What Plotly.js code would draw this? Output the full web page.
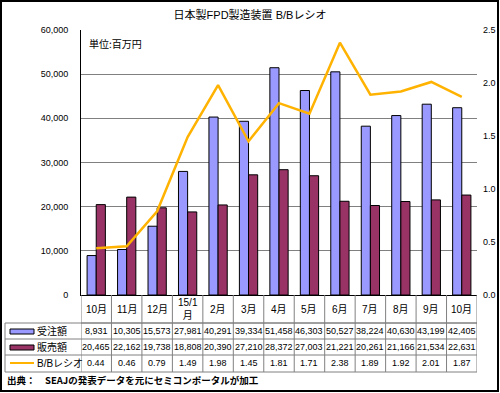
<!DOCTYPE html>
<html><head><meta charset="utf-8">
<script src="https://cdn.plot.ly/plotly-3.0.1.min.js"></script>
<style>body{margin:0;background:#fff}#c{width:500px;height:393px}</style>
</head><body><div id="c"></div>
<script>
var categories = ['10月','11月','12月','15/1<br>月','2月','3月','4月','5月','6月','7月','8月','9月','10月'];
var orders = [8931,10305,15573,27981,40291,39334,51458,46303,50527,38224,40630,43199,42405];
var sales = [20465,22162,19738,18808,20390,27210,28372,27003,21221,20261,21166,21534,22631];
var bbRatio = [0.44,0.46,0.79,1.49,1.98,1.45,1.81,1.71,2.38,1.89,1.92,2.01,1.87];
var seriesNames = ['受注額','販売額','B/Bレシオ'];
var titleText = '日本製FPD製造装置 B/Bレシオ';
var unitText = '単位:百万円';
var sourceText = '出典：　SEAJの発表データを元にセミコンポータルが加工';

var L=81,R=477,T=30,B=295,W=R-L,H=B-T;
function px(x){return (x-L)/W;}
function py(y){return (B-y)/H;}
var idx = categories.map(function(_,i){return i;});
var FONT = 'Liberation Sans, Noto Sans CJK JP, sans-serif';
var CJK = 'Noto Sans CJK JP, sans-serif';
var blue='#9999FF', maroon='#993366', gold='#FFB300', tline='#808080';

var fmt = function(v){return v.toLocaleString('en-US');};

var traces = [
 {type:'bar', x:idx, y:orders, name:seriesNames[0], marker:{color:blue, line:{color:'#000', width:1}}, hoverinfo:'skip'},
 {type:'bar', x:idx, y:sales, name:seriesNames[1], marker:{color:maroon, line:{color:'#000', width:1}}, hoverinfo:'skip'},
 {type:'scatter', mode:'lines', x:idx, y:bbRatio, yaxis:'y2', name:seriesNames[2], line:{color:gold, width:2.5}, hoverinfo:'skip'}
];

var shapes = [], ann = [];
shapes.push({type:'line', xref:'paper', yref:'paper', x0:px(L), x1:px(R), y0:py(323), y1:py(323), line:{color:tline,width:1}});
[323,339,355,372].forEach(function(y){
  shapes.push({type:'line', xref:'paper', yref:'paper', x0:px(5), x1:px(R), y0:py(y), y1:py(y), line:{color:tline,width:1}});
});
for (var i=0;i<=categories.length;i++){
  shapes.push({type:'line', xref:'x', yref:'paper', x0:i-0.5, x1:i-0.5, y0:py(295), y1:py(372), line:{color:tline,width:1}});
}
shapes.push({type:'line', xref:'paper', yref:'paper', x0:px(5), x1:px(5), y0:py(323), y1:py(372), line:{color:tline,width:1}});
shapes.push({type:'rect', xref:'paper', yref:'paper', x0:px(10), x1:px(34), y0:py(329), y1:py(334), fillcolor:blue, line:{color:'#000',width:1}});
shapes.push({type:'rect', xref:'paper', yref:'paper', x0:px(10), x1:px(34), y0:py(345), y1:py(350), fillcolor:maroon, line:{color:'#000',width:1}});
shapes.push({type:'line', xref:'paper', yref:'paper', x0:px(10), x1:px(34), y0:py(363), y1:py(363), line:{color:gold,width:2}});
shapes.push({type:'rect', xref:'paper', yref:'paper', x0:px(1), x1:px(498), y0:py(1), y1:py(391), line:{color:'#000',width:2}});

categories.forEach(function(c,i){
  ann.push({xref:'x', yref:'paper', x:i, y:py(309), text:c, showarrow:false, font:{family:FONT,size:10,color:'#000'}, xanchor:'center', yanchor:'middle'});
});
var rows = [orders, sales, bbRatio];
var rowCenters = [331,347,363];
rows.forEach(function(arr,r){
  arr.forEach(function(v,i){
    ann.push({xref:'x', yref:'paper', x:i, y:py(rowCenters[r]), text: r<2?fmt(v):v.toFixed(2), showarrow:false, font:{family:FONT,size:9,color:'#000'}, xanchor:'center', yanchor:'middle'});
  });
  ann.push({xref:'paper', yref:'paper', x:px(35), y:py(rowCenters[r]), text:seriesNames[r], showarrow:false, font:{family:FONT,size:10,color:'#000'}, xanchor:'left', yanchor:'middle'});
});
ann.push({xref:'paper', yref:'paper', x:px(87), y:py(43), text:unitText, showarrow:false, font:{family:CJK,size:10,color:'#000'}, xanchor:'left', yanchor:'middle'});
ann.push({xref:'paper', yref:'paper', x:px(5), y:py(380), text:sourceText, showarrow:false, font:{family:CJK,size:9.5,color:'#000',weight:'bold'}, xanchor:'left', yanchor:'middle'});

var layout = {
  width:500, height:393,
  margin:{l:L, r:500-R, t:T, b:393-B, pad:0},
  paper_bgcolor:'#fff', plot_bgcolor:'#fff',
  title:{text:titleText, font:{family:FONT,size:11,color:'#000'}, x:0.5, xanchor:'center', y:1-15/393, yanchor:'middle'},
  showlegend:false,
  barmode:'group', bargap:0.4, bargroupgap:0,
  xaxis:{range:[-0.5, categories.length-0.5], showticklabels:false, ticks:'', showgrid:false, zeroline:false, showline:true, linecolor:'#000', linewidth:1, fixedrange:true},
  yaxis:{range:[0,60000], dtick:10000, tickformat:',d', showgrid:true, gridcolor:'#808080', gridwidth:1, zeroline:false, showline:true, linecolor:'#000', linewidth:1, ticks:'', ticklabelstandoff:10, tickfont:{family:FONT,size:9,color:'#000'}},
  yaxis2:{range:[0,2.5], dtick:0.5, tickformat:'.1f', overlaying:'y', side:'right', showgrid:false, zeroline:false, showline:false, ticks:'', ticklabelstandoff:5, tickfont:{family:FONT,size:9,color:'#000'}},
  shapes:shapes, annotations:ann
};
Plotly.newPlot('c', traces, layout, {staticPlot:true, displayModeBar:false});
</script></body></html>
